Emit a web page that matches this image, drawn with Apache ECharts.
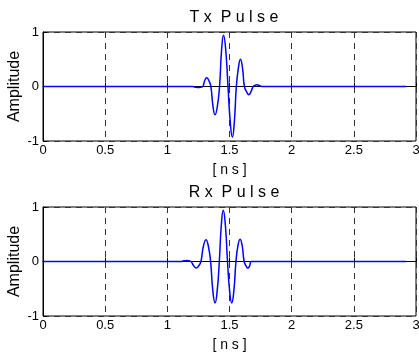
<!DOCTYPE html>
<html>
<head>
<meta charset="utf-8">
<script src="https://cdn.jsdelivr.net/npm/echarts@6/dist/echarts.min.js"></script>
<style>
  html, body { margin: 0; padding: 0; background: #fff; }
  #chart { width: 419px; height: 355px; }
</style>
</head>
<body>
<div id="chart"></div>
<script>
// Tx pulse (ns, amplitude)
const txTime = [0, 1.20, 1.225, 1.25, 1.268, 1.285, 1.301, 1.317, 1.334, 1.35, 1.367, 1.384, 1.402, 1.42,
  1.436, 1.452, 1.470, 1.488, 1.506, 1.523, 1.539, 1.555, 1.572, 1.588, 1.604, 1.62,
  1.638, 1.655, 1.672, 1.69, 1.704, 1.718, 1.74, 1.76, 2.92];
const txAmp  = [0, 0, -0.012, -0.02, -0.012, 0, 0.11, 0.16, 0.11, 0, -0.36, -0.52, -0.37, 0,
  0.66, 0.94, 0.66, 0, -0.65, -0.93, -0.65, 0, 0.35, 0.50, 0.35, 0,
  -0.10, -0.15, -0.10, 0, 0.02, 0.03, 0.02, 0, 0];

// Rx pulse
const rxTime = [0, 1.11, 1.133, 1.156, 1.173, 1.19, 1.212, 1.233, 1.252, 1.27, 1.29, 1.311, 1.33, 1.348,
  1.366, 1.384, 1.401, 1.418, 1.434, 1.45, 1.467, 1.484, 1.501, 1.518, 1.535, 1.552,
  1.568, 1.585, 1.602, 1.618, 1.633, 1.648, 1.662, 1.675, 2.92];
const rxAmp  = [0, 0, 0.012, 0.02, 0.012, 0, -0.08, -0.12, -0.08, 0, 0.28, 0.40, 0.28, 0,
  -0.54, -0.76, -0.54, 0, 0.66, 0.94, 0.66, 0, -0.54, -0.76, -0.54, 0,
  0.29, 0.41, 0.29, 0, -0.08, -0.12, -0.08, 0, 0];

const xTicks = [0, 0.5, 1, 1.5, 2, 2.5, 3];
const yTicks = [-1, 0, 1];

const font = 'Liberation Sans, Arial, Helvetica, sans-serif';

function pairs(t, a) {
  return t.map((v, i) => [v, a[i]]);
}

function xAxis(idx) {
  return {
    type: 'value', gridIndex: idx,
    min: xTicks[0], max: xTicks[xTicks.length - 1], interval: 0.5,
    name: '[ n s ]', nameLocation: 'middle', nameGap: 22, nameMoveOverlap: false,
    nameTextStyle: { color: '#000', fontSize: 14, fontFamily: font },
    axisLine: { show: true, lineStyle: { color: '#000', width: 1 } },
    axisTick: { show: true, inside: true, length: 4, lineStyle: { color: '#000' } },
    axisLabel: { color: '#000', fontSize: 13, fontFamily: font, margin: 3, showMaxLabel: true },
    splitLine: { show: true, lineStyle: { color: '#333', type: [6, 5], width: 1 } }
  };
}

function yAxis(idx) {
  return {
    type: 'value', gridIndex: idx,
    min: yTicks[0], max: yTicks[yTicks.length - 1], interval: 1,
    name: 'Amplitude', nameLocation: 'middle', nameGap: 20, nameRotate: 90, nameMoveOverlap: false,
    nameTextStyle: { color: '#000', fontSize: 16, fontFamily: font },
    axisLine: { show: true, lineStyle: { color: '#000', width: 1 } },
    axisTick: { show: true, inside: true, length: 4, lineStyle: { color: '#000' } },
    axisLabel: { color: '#000', fontSize: 13, fontFamily: font, margin: 4 },
    splitLine: { show: true, lineStyle: { color: '#333', type: [6, 5], width: 1 } }
  };
}

function pulse(idx, t, a) {
  return {
    type: 'line', xAxisIndex: idx, yAxisIndex: idx,
    data: pairs(t, a),
    showSymbol: false, smooth: 0.5,
    lineStyle: { color: '#0000ff', width: 1.5 },
    silent: true, animation: false
  };
}

const chart = echarts.init(document.getElementById('chart'));
chart.setOption({
  backgroundColor: '#fff',
  animation: false,
  title: [
    { text: 'T x  P u l s e', left: 229, top: 5, textAlign: 'center',
      textStyle: { color: '#000', fontSize: 16, fontWeight: 'normal', fontFamily: font } },
    { text: 'R x  P u l s e', left: 229, top: 180, textAlign: 'center',
      textStyle: { color: '#000', fontSize: 16, fontWeight: 'normal', fontFamily: font } }
  ],
  grid: [
    { left: 43, right: 3, top: 32, height: 109, show: true, borderColor: '#000', borderWidth: 1,
      backgroundColor: '#fff', containLabel: false, outerBoundsMode: 'none' },
    { left: 43, right: 3, top: 207, height: 109, show: true, borderColor: '#000', borderWidth: 1,
      backgroundColor: '#fff', containLabel: false, outerBoundsMode: 'none' }
  ],
  xAxis: [xAxis(0), xAxis(1)],
  yAxis: [yAxis(0), yAxis(1)],
  series: [pulse(0, txTime, txAmp), pulse(1, rxTime, rxAmp)]
});
</script>
</body>
</html>
